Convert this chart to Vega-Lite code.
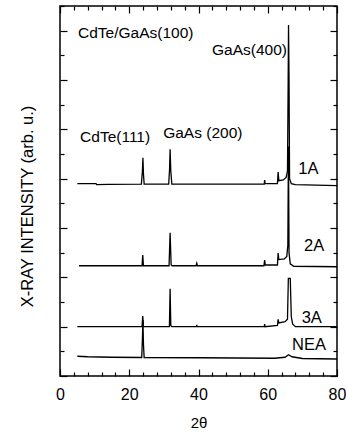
{
  "$schema": "https://vega.github.io/schema/vega-lite/v6.json",
  "width": 277,
  "height": 370,
  "autosize": "none",
  "padding": {"left": 60, "top": 6, "right": 9, "bottom": 57},
  "config": {
    "view": {"stroke": "black", "strokeWidth": 1.5},
    "font": "Liberation Sans",
    "axis": {"domain": false, "grid": false, "tickColor": "black", "tickWidth": 1.2, "labelColor": "black", "titleColor": "black", "labelFont": "Liberation Sans", "titleFont": "Liberation Sans", "titleFontWeight": "normal"}
  },
  "layer": [
    {
      "data": {"values": [
        {"s":"1A","x":5.0,"y":7.8},{"s":"1A","x":10.4,"y":7.8},{"s":"1A","x":10.6,"y":7.76},{"s":"1A","x":14,"y":7.77},{"s":"1A","x":23.5,"y":7.78},{"s":"1A","x":23.8,"y":8.3},{"s":"1A","x":23.95,"y":8.85},{"s":"1A","x":24.1,"y":8.2},{"s":"1A","x":24.3,"y":7.78},{"s":"1A","x":31.4,"y":7.78},{"s":"1A","x":31.65,"y":8.4},{"s":"1A","x":31.8,"y":9.19},{"s":"1A","x":32.0,"y":8.3},{"s":"1A","x":32.3,"y":7.78},{"s":"1A","x":59.0,"y":7.78},{"s":"1A","x":59.1,"y":7.94},{"s":"1A","x":59.25,"y":7.8},{"s":"1A","x":62.8,"y":7.8},{"s":"1A","x":63.0,"y":8.27},{"s":"1A","x":63.2,"y":7.92},{"s":"1A","x":64.5,"y":7.95},{"s":"1A","x":65.3,"y":8.05},{"s":"1A","x":65.7,"y":8.3},{"s":"1A","x":65.9,"y":12},{"s":"1A","x":66.0,"y":14.23},{"s":"1A","x":66.15,"y":12},{"s":"1A","x":66.3,"y":8.0},{"s":"1A","x":66.8,"y":7.8},{"s":"1A","x":68,"y":7.76},{"s":"1A","x":80,"y":7.72},
        {"s":"2A","x":5.5,"y":4.47},{"s":"2A","x":11,"y":4.47},{"s":"2A","x":23.7,"y":4.47},{"s":"2A","x":23.9,"y":4.9},{"s":"2A","x":24.1,"y":4.47},{"s":"2A","x":31.5,"y":4.47},{"s":"2A","x":31.8,"y":5.81},{"s":"2A","x":32.1,"y":4.5},{"s":"2A","x":32.4,"y":4.47},{"s":"2A","x":39.3,"y":4.47},{"s":"2A","x":39.5,"y":4.57},{"s":"2A","x":39.7,"y":4.47},{"s":"2A","x":58.9,"y":4.47},{"s":"2A","x":59.1,"y":4.7},{"s":"2A","x":59.3,"y":4.5},{"s":"2A","x":62.8,"y":4.5},{"s":"2A","x":63.0,"y":4.98},{"s":"2A","x":63.2,"y":4.72},{"s":"2A","x":64.8,"y":4.75},{"s":"2A","x":65.5,"y":4.85},{"s":"2A","x":65.8,"y":5.3},{"s":"2A","x":65.98,"y":9.3},{"s":"2A","x":66.15,"y":5.0},{"s":"2A","x":66.5,"y":4.55},{"s":"2A","x":67.5,"y":4.45},{"s":"2A","x":80,"y":4.43},
        {"s":"3A","x":5,"y":2.0},{"s":"3A","x":10.5,"y":2.0},{"s":"3A","x":23.7,"y":2.0},{"s":"3A","x":23.9,"y":2.43},{"s":"3A","x":24.1,"y":2.0},{"s":"3A","x":31.6,"y":2.0},{"s":"3A","x":31.8,"y":3.54},{"s":"3A","x":32.0,"y":2.05},{"s":"3A","x":32.3,"y":2.0},{"s":"3A","x":39.4,"y":2.0},{"s":"3A","x":39.5,"y":2.07},{"s":"3A","x":39.6,"y":2.0},{"s":"3A","x":59.0,"y":2.0},{"s":"3A","x":59.1,"y":2.1},{"s":"3A","x":59.2,"y":2.0},{"s":"3A","x":62.8,"y":2.05},{"s":"3A","x":63.0,"y":2.3},{"s":"3A","x":63.2,"y":2.15},{"s":"3A","x":65.0,"y":2.2},{"s":"3A","x":65.7,"y":2.3},{"s":"3A","x":65.95,"y":3.96},{"s":"3A","x":66.5,"y":3.96},{"s":"3A","x":66.8,"y":2.4},{"s":"3A","x":67.2,"y":2.1},{"s":"3A","x":68,"y":2.0},{"s":"3A","x":80,"y":2.0},
        {"s":"NEA","x":5,"y":0.8},{"s":"NEA","x":8,"y":0.78},{"s":"NEA","x":15,"y":0.76},{"s":"NEA","x":23.6,"y":0.75},{"s":"NEA","x":23.8,"y":1.5},{"s":"NEA","x":23.95,"y":2.27},{"s":"NEA","x":24.1,"y":1.3},{"s":"NEA","x":24.3,"y":0.75},{"s":"NEA","x":40,"y":0.74},{"s":"NEA","x":62,"y":0.72},{"s":"NEA","x":65,"y":0.76},{"s":"NEA","x":66,"y":0.86},{"s":"NEA","x":67,"y":0.78},{"s":"NEA","x":70,"y":0.71},{"s":"NEA","x":80,"y":0.69}
      ]},
      "mark": {"type": "line", "color": "black", "strokeWidth": 1.3},
      "encoding": {
        "x": {"field": "x", "type": "quantitative", "scale": {"domain": [0, 80], "nice": false, "zero": false},
          "axis": {"orient": "bottom", "title": "2θ", "titleFontSize": 15, "titleY": 46, "titleBaseline": "middle",
            "values": [0,4,8,12,16,20,24,28,32,36,40,44,48,52,56,60,64,68,72,76,80],
            "labelExpr": "datum.value % 20 === 0 ? datum.label : ''",
            "tickSize": {"condition": {"test": "datum.value % 20 === 0", "value": -7}, "value": -4},
            "labelFontSize": 16, "labelPadding": 17, "labelFlush": false, "labelOverlap": false}},
        "y": {"field": "y", "type": "quantitative", "scale": {"domain": [0, 15], "nice": false, "zero": false},
          "axis": {"orient": "left", "title": "X-RAY INTENSITY (arb. u.)", "titleFontSize": 16.5, "titleX": -28, "titleY": 200, "titleBaseline": "alphabetic", "titleAngle": 270, "titleAlign": "center",
            "values": [0,1,2,3,4,5,6,7,8,9,10,11,12,13,14,15], "labels": false,
            "tickSize": {"condition": {"test": "datum.value % 2 === 0", "value": -7}, "value": -4}}},
        "detail": {"field": "s"}
      }
    },
    {
      "data": {"values": [
        {"t": "CdTe/GaAs(100)", "x": 5.2, "y": 13.9, "g": "a"},
        {"t": "GaAs(400)", "x": 43.9, "y": 13.2, "g": "a"},
        {"t": "CdTe(111)", "x": 5.8, "y": 9.7, "g": "a"},
        {"t": "GaAs (200)", "x": 29.8, "y": 9.85, "g": "a"},
        {"t": "1A", "x": 68.8, "y": 8.4, "g": "b"},
        {"t": "2A", "x": 70.5, "y": 5.27, "g": "b"},
        {"t": "3A", "x": 69.8, "y": 2.35, "g": "b"},
        {"t": "NEA", "x": 67.0, "y": 1.26, "g": "b"}
      ]},
      "mark": {"type": "text", "align": "left", "baseline": "middle", "color": "black"},
      "encoding": {
        "x": {"field": "x", "type": "quantitative", "scale": {"domain": [0, 80], "nice": false, "zero": false},
          "axis": {"orient": "top", "title": null, "labels": false,
            "values": [0,4,8,12,16,20,24,28,32,36,40,44,48,52,56,60,64,68,72,76,80],
            "tickSize": {"condition": {"test": "datum.value % 20 === 0", "value": -7}, "value": -4}}},
        "y": {"field": "y", "type": "quantitative", "scale": {"domain": [0, 15], "nice": false, "zero": false},
          "axis": {"orient": "right", "title": null, "labels": false,
            "values": [0,1,2,3,4,5,6,7,8,9,10,11,12,13,14,15],
            "tickSize": {"condition": {"test": "datum.value % 2 === 0", "value": -7}, "value": -4}}},
        "size": {"field": "g", "type": "nominal", "scale": {"domain": ["a", "b"], "range": [15.5, 16.5]}, "legend": null},
        "text": {"field": "t"}
      }
    }
  ],
  "resolve": {"axis": {"x": "independent", "y": "independent"}}
}
